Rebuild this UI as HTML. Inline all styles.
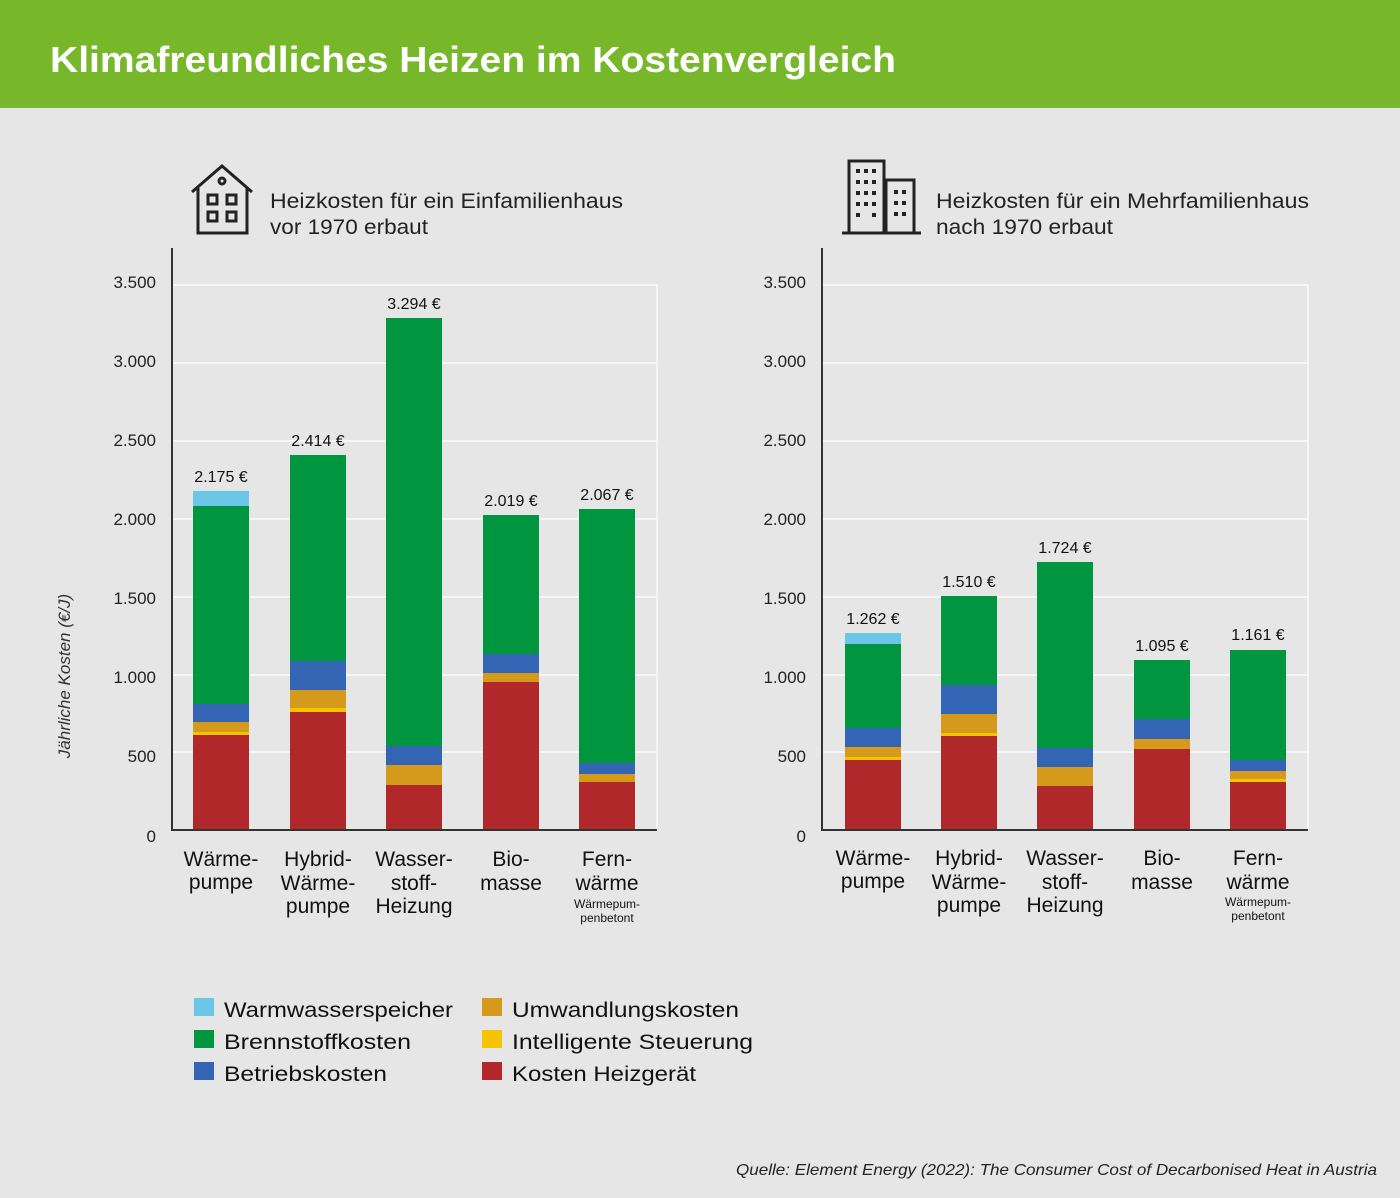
<!DOCTYPE html>
<html><head><meta charset="utf-8"><style>
body{margin:0;width:1400px;height:1198px;background:#e6e6e6;overflow:hidden}
svg{display:block;font-family:"Liberation Sans",sans-serif}
</style></head><body>
<svg width="1400" height="1198" viewBox="0 0 1400 1198">
<rect width="1400" height="1198" fill="#e6e6e6"/>
<rect width="1400" height="108" fill="#76b82a"/>
<text x="50" y="72" font-size="36" font-weight="bold" fill="#fff" textLength="846" lengthAdjust="spacingAndGlyphs">Klimafreundliches Heizen im Kostenvergleich</text>

<g fill="none" stroke="#222" stroke-width="3">
<path d="M192 192 L222 166 L252 192 M198 188 V233 H247 V188"/>
<circle cx="222" cy="181" r="3"/>
<rect x="208" y="195" width="9" height="9"/><rect x="227" y="195" width="9" height="9"/>
<rect x="208" y="212" width="9" height="9"/><rect x="227" y="212" width="9" height="9"/>
</g>
<text x="270" y="208" font-size="21" fill="#222" textLength="353" lengthAdjust="spacingAndGlyphs">Heizkosten für ein Einfamilienhaus</text>
<text x="270" y="234" font-size="21" fill="#222" textLength="158" lengthAdjust="spacingAndGlyphs">vor 1970 erbaut</text>

<g fill="none" stroke="#222" stroke-width="3">
<rect x="849" y="161" width="35" height="72"/><rect x="886" y="180" width="28" height="53"/>
<path d="M842 233 H921"/>
</g>
<g fill="#222">
<rect x="856" y="169" width="4" height="4"/><rect x="864" y="169" width="4" height="4"/><rect x="872" y="169" width="4" height="4"/>
<rect x="856" y="180" width="4" height="4"/><rect x="864" y="180" width="4" height="4"/><rect x="872" y="180" width="4" height="4"/>
<rect x="856" y="191" width="4" height="4"/><rect x="864" y="191" width="4" height="4"/><rect x="872" y="191" width="4" height="4"/>
<rect x="856" y="202" width="4" height="4"/><rect x="864" y="202" width="4" height="4"/><rect x="872" y="202" width="4" height="4"/>
<rect x="856" y="213" width="4" height="4"/><rect x="872" y="213" width="4" height="4"/>
<rect x="894" y="190" width="4" height="4"/><rect x="902" y="190" width="4" height="4"/>
<rect x="894" y="201" width="4" height="4"/><rect x="902" y="201" width="4" height="4"/>
<rect x="894" y="212" width="4" height="4"/><rect x="902" y="212" width="4" height="4"/>
</g>
<text x="936" y="208" font-size="21" fill="#222" textLength="373" lengthAdjust="spacingAndGlyphs">Heizkosten für ein Mehrfamilienhaus</text>
<text x="936" y="234" font-size="21" fill="#222" textLength="177" lengthAdjust="spacingAndGlyphs">nach 1970 erbaut</text>

<g stroke="#fff" stroke-width="1.2">
<line x1="172" x2="657" y1="285" y2="285"/><line x1="172" x2="657" y1="363" y2="363"/><line x1="172" x2="657" y1="441" y2="441"/><line x1="172" x2="657" y1="519" y2="519"/><line x1="172" x2="657" y1="597" y2="597"/><line x1="172" x2="657" y1="675" y2="675"/><line x1="172" x2="657" y1="752" y2="752"/>
<line x1="657" x2="657" y1="285" y2="830"/>
<line x1="822" x2="1308" y1="285" y2="285"/><line x1="822" x2="1308" y1="363" y2="363"/><line x1="822" x2="1308" y1="441" y2="441"/><line x1="822" x2="1308" y1="519" y2="519"/><line x1="822" x2="1308" y1="597" y2="597"/><line x1="822" x2="1308" y1="675" y2="675"/><line x1="822" x2="1308" y1="752" y2="752"/>
<line x1="1308" x2="1308" y1="285" y2="830"/>
</g>

<g font-size="17" fill="#222" text-anchor="end">
<text x="156" y="288">3.500</text><text x="156" y="367">3.000</text><text x="156" y="446">2.500</text><text x="156" y="525">2.000</text><text x="156" y="604">1.500</text><text x="156" y="683">1.000</text><text x="156" y="762">500</text><text x="156" y="842">0</text>
<text x="806" y="288">3.500</text><text x="806" y="367">3.000</text><text x="806" y="446">2.500</text><text x="806" y="525">2.000</text><text x="806" y="604">1.500</text><text x="806" y="683">1.000</text><text x="806" y="762">500</text><text x="806" y="842">0</text>
</g>
<text transform="translate(70,676) rotate(-90)" font-size="17" font-style="italic" fill="#333" text-anchor="middle">Jährliche Kosten (€/J)</text>

<g>
<rect x="193" y="735" width="56" height="95" fill="#b0282a"/><rect x="193" y="732" width="56" height="3" fill="#f5c400"/><rect x="193" y="722" width="56" height="10" fill="#d59a1c"/><rect x="193" y="704" width="56" height="18" fill="#3464b4"/><rect x="193" y="506" width="56" height="198" fill="#009640"/><rect x="193" y="491" width="56" height="15" fill="#6cc6e8"/>
<rect x="290" y="712" width="56" height="118" fill="#b0282a"/><rect x="290" y="708" width="56" height="4" fill="#f5c400"/><rect x="290" y="690" width="56" height="18" fill="#d59a1c"/><rect x="290" y="661" width="56" height="29" fill="#3464b4"/><rect x="290" y="455" width="56" height="206" fill="#009640"/>
<rect x="386" y="785" width="56" height="45" fill="#b0282a"/><rect x="386" y="765" width="56" height="20" fill="#d59a1c"/><rect x="386" y="746" width="56" height="19" fill="#3464b4"/><rect x="386" y="318" width="56" height="428" fill="#009640"/>
<rect x="483" y="682" width="56" height="148" fill="#b0282a"/><rect x="483" y="673" width="56" height="9" fill="#d59a1c"/><rect x="483" y="654" width="56" height="19" fill="#3464b4"/><rect x="483" y="515" width="56" height="139" fill="#009640"/>
<rect x="579" y="782" width="56" height="48" fill="#b0282a"/><rect x="579" y="774" width="56" height="8" fill="#d59a1c"/><rect x="579" y="763" width="56" height="11" fill="#3464b4"/><rect x="579" y="509" width="56" height="254" fill="#009640"/>
</g>
<g>
<rect x="845" y="760" width="56" height="70" fill="#b0282a"/><rect x="845" y="757" width="56" height="3" fill="#f5c400"/><rect x="845" y="747" width="56" height="10" fill="#d59a1c"/><rect x="845" y="728" width="56" height="19" fill="#3464b4"/><rect x="845" y="644" width="56" height="84" fill="#009640"/><rect x="845" y="633" width="56" height="11" fill="#6cc6e8"/>
<rect x="941" y="736" width="56" height="94" fill="#b0282a"/><rect x="941" y="733" width="56" height="3" fill="#f5c400"/><rect x="941" y="714" width="56" height="19" fill="#d59a1c"/><rect x="941" y="685" width="56" height="29" fill="#3464b4"/><rect x="941" y="596" width="56" height="89" fill="#009640"/>
<rect x="1037" y="786" width="56" height="44" fill="#b0282a"/><rect x="1037" y="767" width="56" height="19" fill="#d59a1c"/><rect x="1037" y="748" width="56" height="19" fill="#3464b4"/><rect x="1037" y="562" width="56" height="186" fill="#009640"/>
<rect x="1134" y="749" width="56" height="81" fill="#b0282a"/><rect x="1134" y="739" width="56" height="10" fill="#d59a1c"/><rect x="1134" y="719" width="56" height="20" fill="#3464b4"/><rect x="1134" y="660" width="56" height="59" fill="#009640"/>
<rect x="1230" y="782" width="56" height="48" fill="#b0282a"/><rect x="1230" y="779" width="56" height="3" fill="#f5c400"/><rect x="1230" y="771" width="56" height="8" fill="#d59a1c"/><rect x="1230" y="760" width="56" height="11" fill="#3464b4"/><rect x="1230" y="650" width="56" height="110" fill="#009640"/>
</g>

<g stroke="#333" stroke-width="2" fill="none">
<path d="M172 248 V830 H657"/><path d="M822 248 V830 H1308"/>
</g>

<g font-size="16" fill="#111" text-anchor="middle">
<text x="221" y="482">2.175 €</text><text x="318" y="446">2.414 €</text><text x="414" y="309">3.294 €</text><text x="511" y="506">2.019 €</text><text x="607" y="500">2.067 €</text>
<text x="873" y="624">1.262 €</text><text x="969" y="587">1.510 €</text><text x="1065" y="553">1.724 €</text><text x="1162" y="651">1.095 €</text><text x="1258" y="640">1.161 €</text>
</g>

<g font-size="21" fill="#111" text-anchor="middle">
<text x="221" y="866">Wärme-</text><text x="221" y="889">pumpe</text>
<text x="318" y="866">Hybrid-</text><text x="318" y="890">Wärme-</text><text x="318" y="913">pumpe</text>
<text x="414" y="866">Wasser-</text><text x="414" y="890">stoff-</text><text x="414" y="913">Heizung</text>
<text x="511" y="866">Bio-</text><text x="511" y="890">masse</text>
<text x="607" y="866">Fern-</text><text x="607" y="890">wärme</text>
<text x="873" y="865">Wärme-</text><text x="873" y="888">pumpe</text>
<text x="969" y="865">Hybrid-</text><text x="969" y="889">Wärme-</text><text x="969" y="912">pumpe</text>
<text x="1065" y="865">Wasser-</text><text x="1065" y="889">stoff-</text><text x="1065" y="912">Heizung</text>
<text x="1162" y="865">Bio-</text><text x="1162" y="889">masse</text>
<text x="1258" y="865">Fern-</text><text x="1258" y="889">wärme</text>
</g>
<g font-size="12" fill="#111" text-anchor="middle">
<text x="607" y="908">Wärmepum-</text><text x="607" y="922">penbetont</text>
<text x="1258" y="906">Wärmepum-</text><text x="1258" y="920">penbetont</text>
</g>

<g font-size="21" fill="#111">
<rect x="194" y="998" width="20" height="18" fill="#6cc6e8"/><text x="224" y="1017" textLength="229" lengthAdjust="spacingAndGlyphs">Warmwasserspeicher</text>
<rect x="194" y="1030" width="20" height="18" fill="#009640"/><text x="224" y="1049" textLength="187" lengthAdjust="spacingAndGlyphs">Brennstoffkosten</text>
<rect x="194" y="1062" width="20" height="18" fill="#3464b4"/><text x="224" y="1081" textLength="163" lengthAdjust="spacingAndGlyphs">Betriebskosten</text>
<rect x="482" y="998" width="20" height="18" fill="#d59a1c"/><text x="512" y="1017" textLength="227" lengthAdjust="spacingAndGlyphs">Umwandlungskosten</text>
<rect x="482" y="1030" width="20" height="18" fill="#f5c400"/><text x="512" y="1049" textLength="241" lengthAdjust="spacingAndGlyphs">Intelligente Steuerung</text>
<rect x="482" y="1062" width="20" height="18" fill="#b0282a"/><text x="512" y="1081" textLength="184" lengthAdjust="spacingAndGlyphs">Kosten Heizgerät</text>
</g>
<text x="736" y="1175" font-size="16" font-style="italic" fill="#222" textLength="641" lengthAdjust="spacingAndGlyphs">Quelle: Element Energy (2022): The Consumer Cost of Decarbonised Heat in Austria</text>
</svg>
</body></html>
